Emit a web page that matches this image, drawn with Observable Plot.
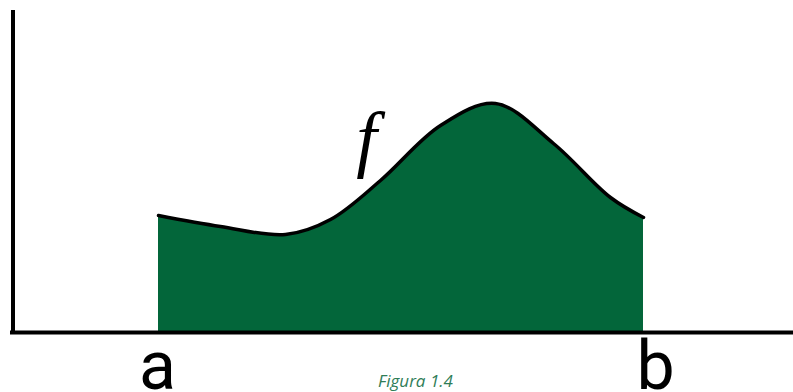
<!DOCTYPE html>
<html>
<head>
<meta charset="utf-8">
<script src="https://cdn.jsdelivr.net/npm/d3@7"></script>
<script src="https://cdn.jsdelivr.net/npm/@observablehq/plot@0.6"></script>
<style>
  html, body { margin: 0; padding: 0; background: #fff; }
  #chart svg { display: block; }
</style>
</head>
<body>
<div id="chart"></div>
<script>
// Curve f over [a, b] (x in pixel-like units, y = height above baseline)
const curveX = [158, 220, 285, 330, 380, 440, 495, 553, 610, 643];
const curveY = [117, 106, 98, 113, 152, 207, 229, 189, 135, 115];

// Axis labels
const tickLabels = ["a", "b"];
const tickX = [157, 655];

// Function label
const fnLabel = ["f"];
const fnX = [366];
const fnY = [170];

// Caption
const caption = ["Figura 1.4"];

const data = curveX.map((x, i) => ({x, y: curveY[i]}));
const ticks = tickLabels.map((t, i) => ({t, x: tickX[i]}));

const chart = Plot.plot({
  width: 793,
  height: 392,
  margin: 0,
  x: {domain: [0, 793], range: [0, 793], axis: null},
  y: {domain: [-60, 332], range: [392, 0], axis: null},
  style: {background: "#fff"},
  marks: [
    Plot.areaY(data, {x: "x", y: "y", fill: "#03663a", curve: "catmull-rom"}),
    Plot.lineY(data, {x: "x", y: "y", stroke: "#000", strokeWidth: 3.5, curve: "catmull-rom"}),
    Plot.ruleY([0], {x1: 10, x2: 793, stroke: "#000", strokeWidth: 4}),
    Plot.ruleX([12.5], {y1: -2, y2: 322, stroke: "#000", strokeWidth: 4}),
    Plot.text(ticks, {x: "x", y: -56, text: "t", fontSize: 68, fontFamily: "Roboto", fill: "#000", textAnchor: "middle", lineAnchor: "bottom"}),
    Plot.text(fnLabel, {x: fnX[0], y: fnY[0], text: d => d, fontSize: 74, fontFamily: "'Times New Roman', 'Liberation Serif', 'DejaVu Serif', serif", fontStyle: "italic", fill: "#000", textAnchor: "middle", lineAnchor: "bottom"}),
    Plot.text(caption, {x: 415, y: -54, text: d => d, fontSize: 17, fontFamily: "Open Sans", fontStyle: "italic", fill: "#2f7d57", textAnchor: "middle", lineAnchor: "bottom"})
  ]
});
document.getElementById("chart").appendChild(chart);
</script>
</body>
</html>
